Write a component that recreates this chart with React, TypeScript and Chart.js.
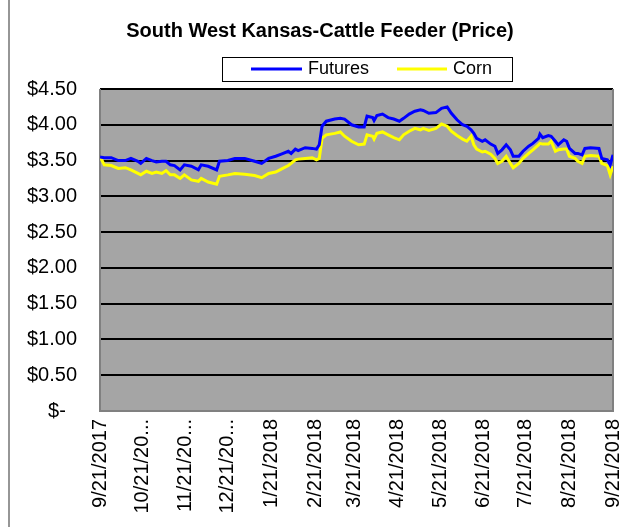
import React, { useEffect, useRef } from "react";
import { Chart, registerables } from "chart.js";

Chart.register(...registerables);

const chartTitle = "South West Kansas-Cattle Feeder (Price)";
const seriesNames = ["Futures", "Corn"];

// day offsets from 9/21/2017
const days = [
  0, 3, 8, 13, 18, 22, 27, 29, 33, 37, 40, 44, 47, 50, 53, 57, 60, 65, 70, 72, 77, 83, 85, 91,
  96, 103, 110, 115, 120, 125, 129, 134, 136, 139, 141, 146, 151, 154, 156, 158, 161, 167, 171, 174, 179,
  184, 188, 190, 194, 195, 197, 201, 205, 209, 213, 216, 220, 224, 228, 230, 234, 239, 243, 247, 250, 254, 258, 261, 264, 266, 268, 272,
  274, 278, 281, 283, 286, 289, 292, 294, 298, 301, 305, 308, 312, 313, 315, 319, 321, 324, 326, 330, 332, 334, 338, 340, 343, 345, 349, 355, 357, 361, 363, 365,
];

const futures = [
  3.55, 3.54, 3.54, 3.5, 3.5, 3.53, 3.49, 3.46, 3.53, 3.5, 3.48, 3.49, 3.49, 3.44, 3.43, 3.37, 3.44, 3.42, 3.37, 3.44, 3.42, 3.37, 3.49, 3.5,
  3.53, 3.53, 3.49, 3.46, 3.53, 3.56, 3.59, 3.63, 3.6, 3.66, 3.64, 3.68, 3.67, 3.66, 3.72, 3.98, 4.05, 4.08, 4.09, 4.08, 4.0,
  3.97, 3.97, 4.12, 4.1, 4.06, 4.13, 4.15, 4.1, 4.08, 4.05, 4.09, 4.15, 4.19, 4.21, 4.2, 4.16, 4.17, 4.23, 4.25, 4.16, 4.07, 4.0, 3.98, 3.93, 3.88, 3.81, 3.77,
  3.79, 3.73, 3.7, 3.6, 3.65, 3.72, 3.65, 3.56, 3.56, 3.63, 3.7, 3.74, 3.81, 3.87, 3.82, 3.85, 3.84, 3.77, 3.72, 3.79, 3.77, 3.67, 3.6, 3.6, 3.58, 3.67, 3.68, 3.67, 3.53, 3.51, 3.44, 3.58,
];

const corn = [
  3.56, 3.44, 3.43, 3.39, 3.4, 3.37, 3.32, 3.3, 3.35, 3.32, 3.34, 3.32, 3.36, 3.3, 3.3, 3.25, 3.3, 3.23, 3.21, 3.25, 3.2, 3.17, 3.28, 3.3,
  3.32, 3.31, 3.29, 3.26, 3.32, 3.34, 3.38, 3.43, 3.46, 3.51, 3.52, 3.53, 3.54, 3.51, 3.53, 3.81, 3.86, 3.88, 3.9, 3.84, 3.77,
  3.72, 3.73, 3.86, 3.84, 3.8, 3.88, 3.9, 3.86, 3.82, 3.79, 3.86, 3.91, 3.95, 3.93, 3.95, 3.92, 3.95, 4.01, 3.98, 3.91, 3.85, 3.8, 3.77, 3.84, 3.72, 3.66, 3.62,
  3.63, 3.59, 3.53, 3.46, 3.49, 3.56, 3.46, 3.4, 3.46, 3.53, 3.6, 3.65, 3.72, 3.74, 3.73, 3.73, 3.77, 3.63, 3.65, 3.66, 3.66, 3.56, 3.53, 3.49, 3.46, 3.56, 3.57, 3.56, 3.46, 3.43, 3.3, 3.42,
];

const xTickDays = [0, 30, 61, 91, 122, 153, 181, 212, 242, 273, 303, 334, 365];
const xTickLabels = [
  "9/21/2017", "10/21/20...", "11/21/20...", "12/21/20...", "1/21/2018", "2/21/2018", "3/21/2018",
  "4/21/2018", "5/21/2018", "6/21/2018", "7/21/2018", "8/21/2018", "9/21/2018",
];
const yTickValues = [0, 0.5, 1, 1.5, 2, 2.5, 3, 3.5, 4, 4.5];
const yTickLabels = ["$-  ", "$0.50", "$1.00", "$1.50", "$2.00", "$2.50", "$3.00", "$3.50", "$4.00", "$4.50"];

const FONT = "'Liberation Sans', Arial, sans-serif";
const colors = ["#0000ff", "#ffff00"];

const framePlugin = {
  id: "frame",
  beforeDraw(chart: any) {
    const { ctx, chartArea: a } = chart;
    ctx.save();
    ctx.fillStyle = "#ffffff";
    ctx.fillRect(0, 0, chart.width, chart.height);
    ctx.fillStyle = "#a5a5a5";
    ctx.fillRect(a.left, a.top, a.right - a.left, a.bottom - a.top);
    ctx.fillStyle = "#969696";
    ctx.fillRect(8, 0, 2, chart.height);
    ctx.restore();
  },
  beforeDatasetsDraw(chart: any) {
    const { ctx, chartArea: a } = chart;
    ctx.save();
    ctx.strokeStyle = "#808080";
    ctx.lineWidth = 2;
    ctx.beginPath();
    ctx.moveTo(a.left, a.top);
    ctx.lineTo(a.left, a.bottom);
    ctx.lineTo(a.right, a.bottom);
    ctx.lineTo(a.right, a.top);
    ctx.stroke();
    ctx.restore();
  },
  afterDraw(chart: any) {
    const { ctx } = chart;
    ctx.save();
    ctx.fillStyle = "#000";
    ctx.font = `bold 20px ${FONT}`;
    ctx.textAlign = "center";
    ctx.textBaseline = "middle";
    ctx.fillText(chartTitle, 320, 31);
    ctx.fillStyle = "#fff";
    ctx.fillRect(222, 57, 290, 24);
    ctx.strokeStyle = "#000";
    ctx.lineWidth = 1;
    ctx.strokeRect(222.5, 57.5, 290, 24);
    const items = [
      { x1: 251, x2: 302, tx: 308 },
      { x1: 397, x2: 447, tx: 453 },
    ];
    items.forEach((it, i) => {
      ctx.strokeStyle = colors[i];
      ctx.lineWidth = 3;
      ctx.beginPath();
      ctx.moveTo(it.x1, 69);
      ctx.lineTo(it.x2, 69);
      ctx.stroke();
      ctx.fillStyle = "#000";
      ctx.font = `18px ${FONT}`;
      ctx.textAlign = "left";
      ctx.textBaseline = "middle";
      ctx.fillText(seriesNames[i], it.tx, 69);
    });
    ctx.restore();
  },
};

export default function App() {
  const ref = useRef<HTMLCanvasElement | null>(null);
  useEffect(() => {
    if (!ref.current) return;
    const chart = new Chart(ref.current, {
      type: "line",
      data: {
        datasets: [
          {
            label: seriesNames[0],
            data: days.map((d, i) => ({ x: d, y: futures[i] })),
            borderColor: colors[0],
            borderWidth: 3,
            pointRadius: 0,
            tension: 0,
          },
          {
            label: seriesNames[1],
            data: days.map((d, i) => ({ x: d, y: corn[i] })),
            borderColor: colors[1],
            borderWidth: 3,
            pointRadius: 0,
            tension: 0,
          },
        ],
      },
      options: {
        responsive: false,
        animation: false,
        devicePixelRatio: 1,
        layout: { padding: { top: 89, right: 13, left: 0, bottom: 0 } },
        plugins: { legend: { display: false }, title: { display: false }, tooltip: { enabled: false } },
        scales: {
          x: {
            type: "linear",
            min: 0,
            max: 365,
            afterBuildTicks: (s: any) => {
              s.ticks = xTickDays.map((v) => ({ value: v }));
            },
            afterFit: (s: any) => {
              s.height = 116;
              s.paddingLeft = 0;
              s.paddingRight = 0;
            },
            grid: { display: false, drawTicks: false },
            border: { display: false },
            ticks: {
              autoSkip: false,
              maxRotation: 90,
              minRotation: 90,
              padding: 8,
              color: "#000",
              font: { family: FONT, size: 20 },
              callback: (v: any) => {
                const i = xTickDays.indexOf(Number(v));
                return i >= 0 ? xTickLabels[i] : "";
              },
            },
          },
          y: {
            min: 0,
            max: 4.5,
            afterBuildTicks: (s: any) => {
              s.ticks = yTickValues.map((v) => ({ value: v }));
            },
            afterFit: (s: any) => {
              s.width = 100;
              s.paddingTop = 0;
              s.paddingBottom = 0;
            },
            grid: {
              drawTicks: false,
              lineWidth: 2,
              color: (c: any) => (c.tick && c.tick.value === 0 ? "rgba(0,0,0,0)" : "#000"),
            },
            border: { display: false },
            ticks: {
              padding: 23,
              color: "#000",
              font: { family: FONT, size: 20 },
              callback: (v: any) => {
                const i = yTickValues.indexOf(Number(v));
                return i >= 0 ? yTickLabels[i] : "";
              },
            },
          },
        },
      },
      plugins: [framePlugin],
    });
    return () => chart.destroy();
  }, []);
  return (
    <div style={{ position: "fixed", left: 0, top: 0, width: 626, height: 527, background: "#fff" }}>
      <canvas ref={ref} width={626} height={527} style={{ width: 626, height: 527, display: "block" }} />
    </div>
  );
}
